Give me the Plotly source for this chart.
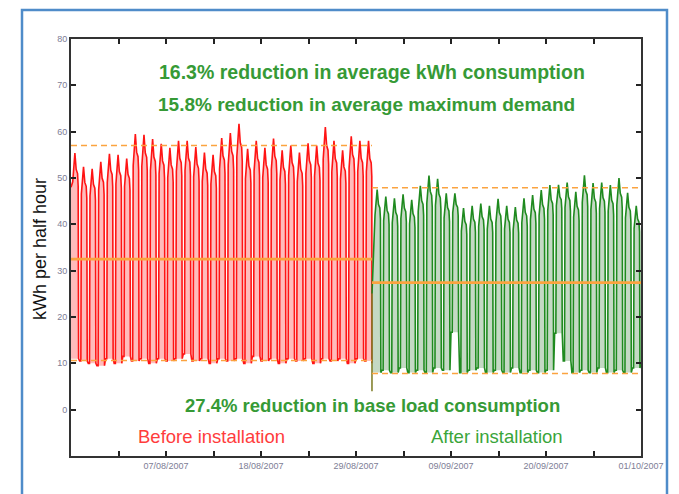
import plotly.graph_objects as go
import pandas as pd

# ---------------- data ----------------
START = pd.Timestamp("2007-07-27")
END = pd.Timestamp("2007-10-01")
INSTALL_DAY = 34.85  # days after START

BEFORE_PEAKS = [55.4, 52.4, 52.0, 53.5, 55.2, 55.0, 54.2, 59.5, 59.3, 58.4,
                57.4, 56.5, 58.0, 58.0, 56.7, 55.5, 55.0, 58.6, 59.7, 61.7,
                56.3, 58.0, 56.5, 58.5, 56.0, 57.0, 55.5, 57.5, 57.0, 61.0,
                58.0, 56.0, 59.0, 58.0, 58.0]
BEFORE_BASES = [11.0, 10.5, 10.0, 9.5, 11.0, 10.0, 11.5, 10.5, 11.0, 10.0,
                11.0, 10.5, 11.0, 12.0, 10.5, 11.0, 10.0, 11.0, 10.5, 11.0,
                10.0, 11.5, 10.5, 11.0, 10.0, 11.0, 10.5, 11.0, 10.0, 11.0,
                10.5, 11.0, 10.0, 11.0, 10.5]
BEFORE_START_VALUE = 48.0

AFTER_PEAKS = [47.5, 46.0, 45.6, 46.5, 45.3, 48.3, 50.5, 49.8, 46.7, 46.7,
               43.5, 44.0, 44.5, 44.0, 45.5, 44.0, 43.7, 45.6, 46.3, 47.4,
               48.5, 48.5, 49.0, 47.0, 50.6, 48.9, 49.0, 48.5, 50.0, 46.8,
               44.0]
AFTER_BASES = [8.0, 8.5, 8.0, 9.0, 8.0, 8.5, 8.0, 9.0, 8.5, 16.7,
               8.0, 8.5, 9.0, 8.0, 8.5, 8.0, 9.0, 8.0, 8.5, 8.0,
               8.5, 16.5, 10.5, 8.0, 8.5, 8.0, 9.0, 8.0, 8.5, 8.0,
               9.0]
AFTER_END_VALUE = 10.0
TRANSITION_VALUES = [10.0, 4.0, 25.0]

BEFORE_LEVELS = {"max": 57.0, "avg": 32.5, "base": 10.6}
AFTER_LEVELS = {"max": 47.9, "avg": 27.4, "base": 7.8}

Y_TICKS = [0, 10, 20, 30, 40, 50, 60, 70, 80]
X_TICK_LABELS = ["07/08/2007", "18/08/2007", "29/08/2007",
                 "09/09/2007", "20/09/2007", "01/10/2007"]

# ---------------- daily shape (style of the half-hourly trace) ----------------
PROFILE = [(0.0, 0.0), (0.14, 0.0), (0.2, 0.86), (0.45, 1.0), (0.6, 0.92),
           (0.76, 0.9), (0.83, 0.84), (0.88, 0.0)]


def t(day):
    return START + pd.Timedelta(days=day)


# Before installation trace
bx, by, bb = [], [], []
for d, (pk, bs) in enumerate(zip(BEFORE_PEAKS, BEFORE_BASES)):
    pts = PROFILE
    if d == 0:
        bx.append(t(0)); by.append(BEFORE_START_VALUE); bb.append(bs)
        pts = PROFILE[2:]
    for f, lv in pts:
        if d + f >= INSTALL_DAY:
            break
        bx.append(t(d + f)); by.append(bs + lv * (pk - bs)); bb.append(bs)
bx.append(t(INSTALL_DAY)); by.append(TRANSITION_VALUES[0]); bb.append(TRANSITION_VALUES[0])

# After installation trace
ax, ay, ab = [t(INSTALL_DAY)], [TRANSITION_VALUES[2]], [AFTER_BASES[0]]
first_day = 35
for i, (pk, bs) in enumerate(zip(AFTER_PEAKS, AFTER_BASES)):
    d = first_day + i
    pts = PROFILE[2:] if i == 0 else PROFILE
    for f, lv in pts:
        ax.append(t(d + f)); ay.append(bs + lv * (pk - bs)); ab.append(bs)
ax.append(END); ay.append(AFTER_END_VALUE); ab.append(AFTER_END_VALUE)

fig = go.Figure()

fig.add_trace(go.Scatter(x=bx, y=bb, mode="lines", line=dict(width=0),
                         hoverinfo="skip", showlegend=False))
fig.add_trace(go.Scatter(x=bx, y=by, mode="lines", fill="tonexty",
                         fillcolor="rgba(255,120,120,0.5)",
                         line=dict(color="#ff1414", width=1.6), showlegend=False))
fig.add_trace(go.Scatter(x=ax, y=ab, mode="lines", line=dict(width=0),
                         hoverinfo="skip", showlegend=False))
fig.add_trace(go.Scatter(x=ax, y=ay, mode="lines", fill="tonexty",
                         fillcolor="rgba(125,170,125,0.45)",
                         line=dict(color="#1f8a1f", width=1.6), showlegend=False))
fig.add_trace(go.Scatter(x=[t(INSTALL_DAY)] * 3, y=TRANSITION_VALUES, mode="lines",
                         line=dict(color="#7c7a22", width=1.5), showlegend=False))

ORANGE = "#fba33f"
for lv, x0, x1 in [(BEFORE_LEVELS, t(0), t(INSTALL_DAY)),
                   (AFTER_LEVELS, t(INSTALL_DAY), END)]:
    for key in ("max", "base"):
        fig.add_trace(go.Scatter(x=[x0, x1], y=[lv[key]] * 2, mode="lines",
                                 line=dict(color=ORANGE, width=1.6, dash="6px,4px"),
                                 showlegend=False))
    fig.add_trace(go.Scatter(x=[x0, x1], y=[lv["avg"]] * 2, mode="lines",
                             line=dict(color=ORANGE, width=2.8),
                             showlegend=False))

tickvals, ticktext = [], []
for k in range(13):
    tickvals.append(t(5.5 * k))
    ticktext.append(X_TICK_LABELS[k // 2 - 1] if (k % 2 == 0 and k > 0) else "")

# page offset of the figure (body margin) and page-pixel geometry
O = 8
W, H = 679 - O, 494 - O
PL, PR, PT, PB = 71, 641, 39, 456   # plot area in page pixels
L, R, T, B = PL - O, W - (PR - O), PT - O, H - (PB - O)
PW, PH = PR - PL, PB - PT


def px(x):
    return (x - PL) / PW


def py(y):
    return (PB - y) / PH


FONT = "Liberation Sans, Arial, sans-serif"
GREEN_TXT = "#369a36"

annotations = [
    dict(x=px(372), y=py(72), text="<b>16.3% reduction in average kWh consumption</b>",
         font=dict(size=19.5, color=GREEN_TXT)),
    dict(x=px(367), y=py(104), text="<b>15.8% reduction in average maximum demand</b>",
         font=dict(size=19, color=GREEN_TXT)),
    dict(x=px(372), y=py(405), text="<b>27.4% reduction in base load consumption</b>",
         font=dict(size=18.5, color=GREEN_TXT)),
    dict(x=px(211), y=py(436), text="Before installation",
         font=dict(size=18.5, color="#ff3c3c")),
    dict(x=px(497), y=py(436), text="After installation",
         font=dict(size=18.5, color="#3aa53a")),
    dict(x=px(40), y=py(249), text="kWh per half hour", textangle=-90,
         font=dict(size=18, color="#111111")),
]
for a in annotations:
    a.update(xref="paper", yref="paper", showarrow=False,
             xanchor="center", yanchor="middle")
    a["font"]["family"] = FONT

fig.update_layout(
    width=W, height=H,
    margin=dict(l=L, r=R, t=T, b=B),
    paper_bgcolor="white", plot_bgcolor="white",
    font=dict(family=FONT),
    annotations=annotations,
    shapes=[dict(type="rect", xref="paper", yref="paper",
                 x0=px(22), x1=px(667), y0=py(505), y1=py(10),
                 line=dict(color="#4f8cc9", width=2.5), layer="below")],
    xaxis=dict(type="date", range=[START, END], tickvals=tickvals, ticktext=ticktext,
               ticks="inside", ticklen=5, tickwidth=1.5, tickcolor="#222",
               showline=True, linecolor="#333", linewidth=1.8, mirror="ticks",
               showgrid=False, zeroline=False, tickangle=0,
               tickfont=dict(size=9, color="#7d7d95")),
    yaxis=dict(range=[-10, 80], tickvals=Y_TICKS,
               ticks="inside", ticklen=5, tickwidth=1.5, tickcolor="#222",
               showline=True, linecolor="#333", linewidth=1.8, mirror="ticks",
               showgrid=False, zeroline=False,
               tickfont=dict(size=9, color="#7d7d95")),
)

fig.write_html("out.html")
